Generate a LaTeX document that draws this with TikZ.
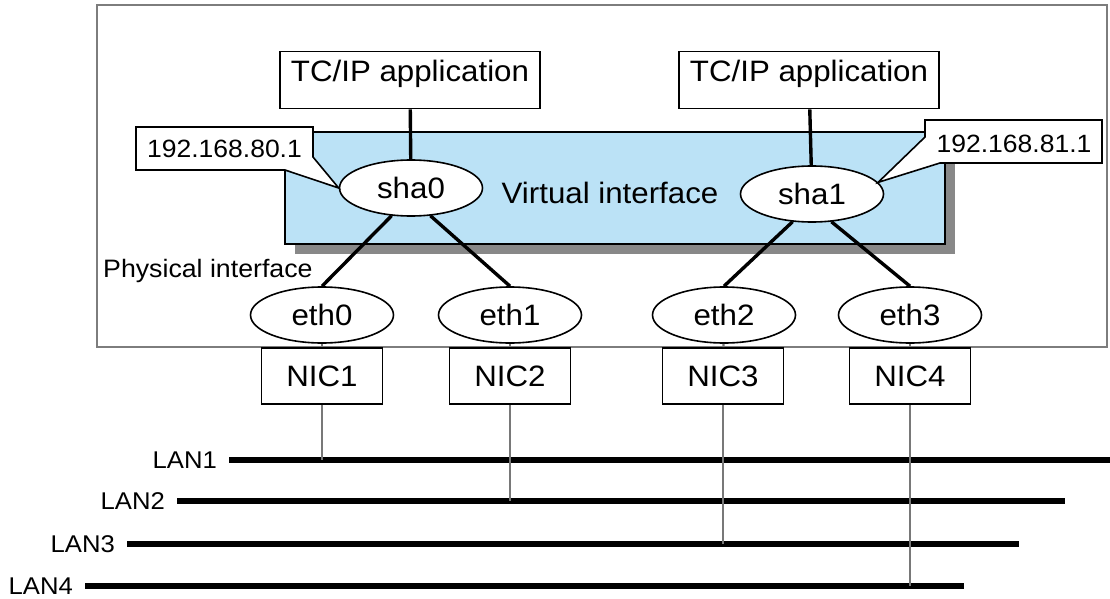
\documentclass[tikz,border=0pt]{standalone}
\usepackage{fontspec}
\setmainfont{Liberation Sans}[FakeStretch=1.06]
\usetikzlibrary{shapes.geometric}
\definecolor{framegray}{RGB}{125,125,125}
\definecolor{shadegray}{RGB}{136,136,136}
\definecolor{vifblue}{RGB}{187,226,246}
\definecolor{dropgray}{RGB}{120,120,120}

\begin{document}
\begin{tikzpicture}[x=1pt, y=-1pt,
  app/.style={draw, line width=1.6pt, minimum width=260pt, minimum height=57pt, text height=21pt, text depth=17pt, inner sep=0pt, font=\fontsize{29.5}{34}\selectfont},
  nic/.style={draw, line width=1.6pt, minimum width=121pt, minimum height=56pt, inner sep=0pt, font=\fontsize{29.5}{34}\selectfont},
  ifc/.style={draw, ellipse, fill=white, line width=1.6pt, minimum width=143pt, minimum height=56pt, inner sep=0pt, font=\fontsize{29.5}{34}\selectfont},
  link/.style={line width=3.4pt},
  stub/.style={dropgray, line width=2.2pt},
  lan/.style={line width=5.5pt},
  tag/.style={draw, fill=white, line width=1.6pt, line join=miter},
  lbl/.style={inner sep=0pt}
]
\useasboundingbox (0,0) rectangle (1110,599);
% Host
\draw[framegray, line width=2.6pt] (97,5) rectangle (1107,347);
\fill[shadegray] (295,142) rectangle (955,254);
\draw[fill=vifblue, line width=1.6pt] (285,132) rectangle (945,244);
\node[app] (app0) at (410,80) {TC/IP application};
\node[app] (app1) at (809,80) {TC/IP application};
\node[ifc] (sha0) at (411,188) {sha0};
\node[ifc] (sha1) at (812,194) {sha1};
\node[lbl, anchor=base, font=\fontsize{29.5}{34}\selectfont] (vif) at (610,203) {Virtual interface};
\node[lbl, anchor=base west, font=\fontsize{25.2}{30}\selectfont] (phy) at (103,277) {Physical interface};
\foreach \i/\x in {0/322,1/510,2/724,3/910}
  \node[ifc] (eth\i) at (\x,315) {eth\i};
\foreach \i/\x in {1/322,2/510,3/723,4/910}
  \node[nic] (nic\i) at (\x,376) {NIC\i};

\draw[link] (app0) -- (sha0);
\draw[link] (app1) -- (sha1);
\draw[link] (sha0.235) -- (eth0.north);
\draw[link] (sha0.305) -- (eth1.north);
\draw[link] (sha1.235) -- (eth2.north);
\draw[link] (sha1.305) -- (eth3.north);
\draw[stub] (eth0) -- (nic1);
\draw[stub] (eth1) -- (nic2);
\draw[stub] (eth2) -- (nic3);
\draw[stub] (eth3) -- (nic4);

% IP addresses
\draw[tag] (313,157) |- (136,127) |- (285,170) -- (sha0.west) -- cycle;
\node[lbl, font=\fontsize{25}{30}\selectfont] (ip0) at (224.5,148.5) {192.168.80.1};
\draw[tag] (925,137) |- (1102,120) |- (940,163) -- (sha1.10) -- cycle;
\node[lbl, font=\fontsize{25}{30}\selectfont] (ip1) at (1014,144) {192.168.81.1};

% LANs
\foreach \n/\xa/\xb/\y in {1/217/1110/460, 2/165/1065/501, 3/115/1019/544, 4/73/964/586} {
  \node[lbl, anchor=east, font=\fontsize{24.2}{29}\selectfont] (lan\n) at (\xa,\y) {LAN\n};
  \coordinate (end\n) at (\xb,\y);
  \draw[lan] ([xshift=12pt]lan\n.east) -- (end\n);
}
\foreach \n in {1,...,4}
  \draw[stub] (nic\n) -- (nic\n |- end\n);
\end{tikzpicture}
\end{document}
